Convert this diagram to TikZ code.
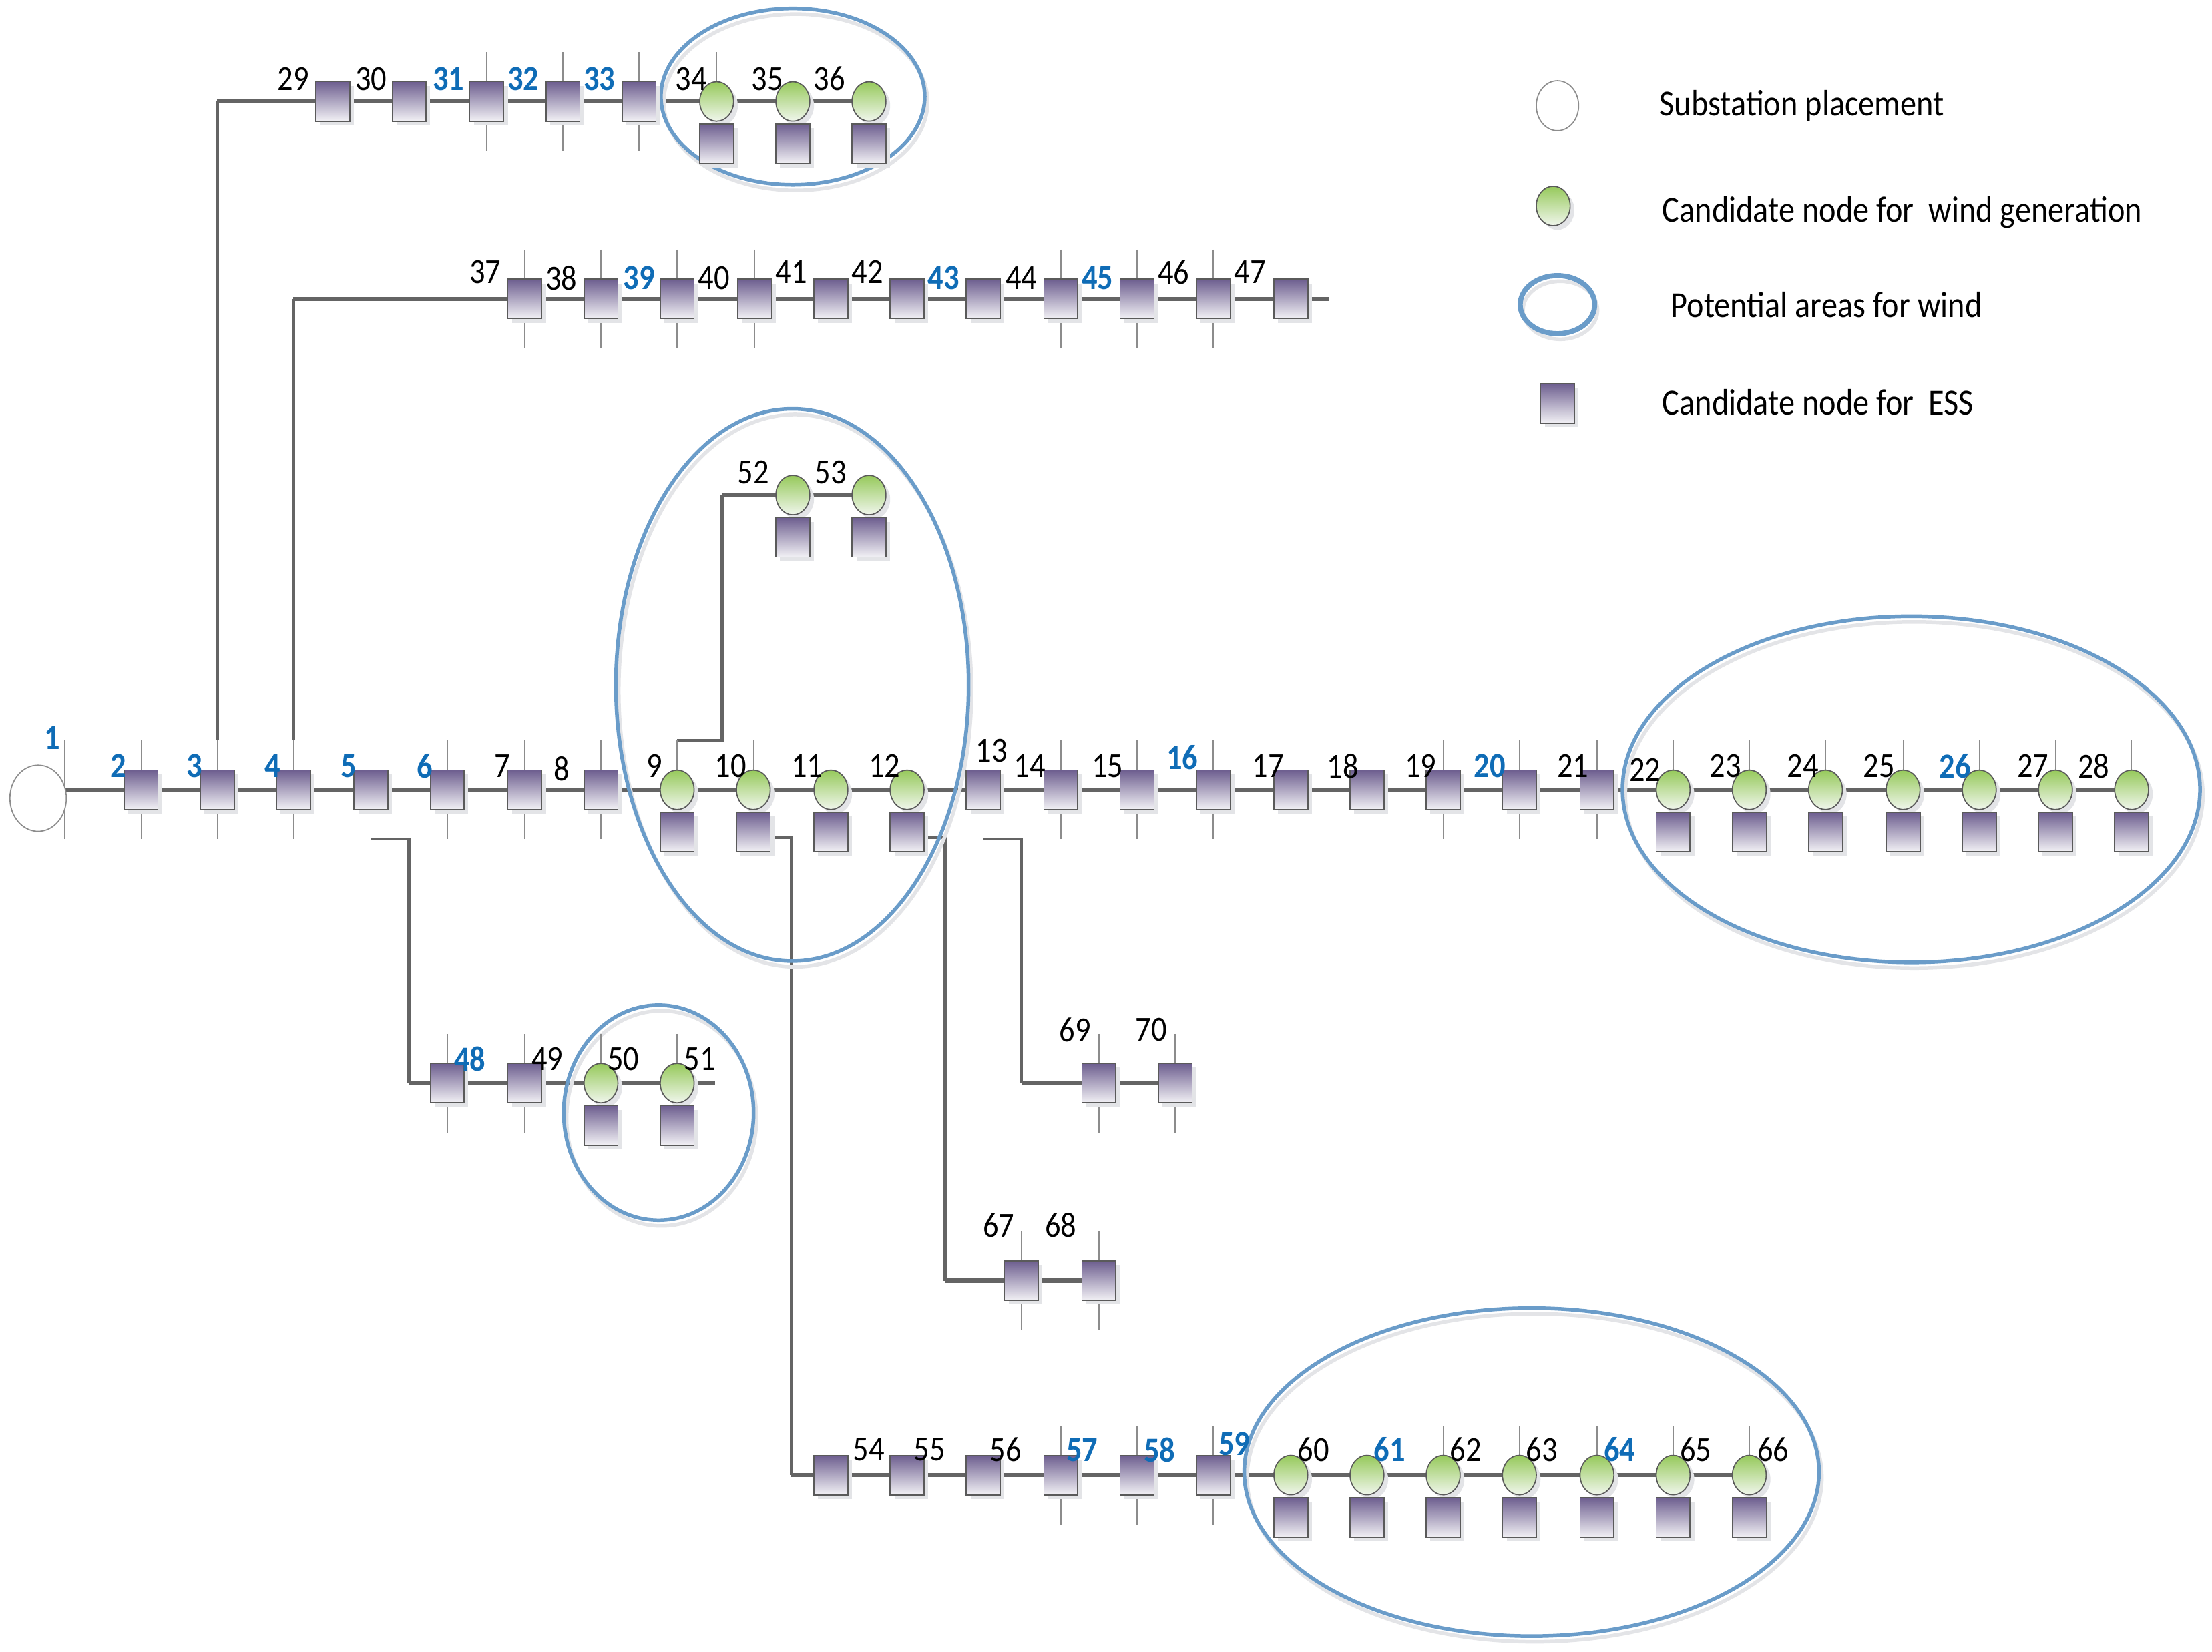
\documentclass[tikz,border=0pt]{standalone}
\usepackage{fontspec}
\newfontfamily\diagfont[FakeStretch=0.88]{Carlito}
\usetikzlibrary{shapes.geometric,shadows}

\definecolor{busgray}{HTML}{646464}
\definecolor{tapgray}{HTML}{8C8C8C}
\definecolor{edgegray}{HTML}{5A5A5A}
\definecolor{esstop}{HTML}{6D5E8F}
\definecolor{essbot}{HTML}{F2F1F5}
\definecolor{windtop}{HTML}{96C95B}
\definecolor{windbot}{HTML}{F0F6EC}
\definecolor{shadegray}{HTML}{E3E4E7}
\definecolor{areablue}{HTML}{6A9CC9}
\definecolor{numblue}{HTML}{0F6CB6}

\tikzset{
  bus/.style={draw=busgray, line width=1.6pt},
  feeder/.style={draw=busgray, line width=1.1pt},
  tap/.style={draw=tapgray, line width=0.35pt},
  ess/.style={rectangle, draw=edgegray, line width=0.4pt, inner sep=0pt,
    minimum width=12pt, minimum height=14pt, top color=esstop, bottom color=essbot,
    drop shadow={shadow xshift=1.5pt, shadow yshift=-1.5pt, fill=shadegray, opacity=1}},
  wind/.style={ellipse, draw=edgegray, line width=0.4pt, inner sep=0pt,
    minimum width=12pt, minimum height=14pt, top color=windtop, bottom color=windbot,
    drop shadow={shadow xshift=1.5pt, shadow yshift=-1.5pt, fill=shadegray, opacity=1}},
  substation/.style={ellipse, draw=tapgray, line width=0.4pt, fill=white, inner sep=0pt},
  area/.style={ellipse, draw=areablue, line width=1.3pt, inner sep=0pt,
    general shadow={draw=shadegray, line width=1.3pt, shadow xshift=1pt, shadow yshift=-2pt}},
  num/.style={inner sep=0pt, font=\diagfont\fontsize{12.5}{14}\selectfont},
  hot/.style={num, text=numblue, font=\diagfont\bfseries\fontsize{12.5}{14}\selectfont},
  legend/.style={inner sep=0pt, anchor=base west, font=\diagfont\fontsize{13}{15}\selectfont}
}

\begin{document}
\begin{tikzpicture}[x=0.5pt, y=-0.5pt]
\useasboundingbox (0,0) rectangle (1568,1171);

% bus positions
\foreach \k/\x/\y in {1/46/560, 2/100/560, 3/154/560, 4/208/560, 5/263/560, 6/317/560,
    7/372/560, 8/426/560, 9/480/560, 10/534/560, 11/589/560, 12/643/560, 13/697/560,
    14/752/560, 15/806/560, 16/860/560, 17/915/560, 18/969/560, 19/1023/560, 20/1077/560,
    21/1132/560, 22/1186/560, 23/1240/560, 24/1294/560, 25/1349/560, 26/1403/560,
    27/1457/560, 28/1511/560,
    29/236/72, 30/290/72, 31/345/72, 32/399/72, 33/453/72, 34/508/72, 35/562/72, 36/616/72,
    37/372/212, 38/426/212, 39/480/212, 40/535/212, 41/589/212, 42/643/212, 43/697/212,
    44/752/212, 45/806/212, 46/860/212, 47/915/212,
    48/317/768, 49/372/768, 50/426/768, 51/480/768, 52/562/351, 53/616/351,
    54/589/1046, 55/643/1046, 56/697/1046, 57/752/1046, 58/806/1046, 59/860/1046,
    60/915/1046, 61/969/1046, 62/1023/1046, 63/1077/1046, 64/1132/1046, 65/1186/1046,
    66/1240/1046, 67/724/908, 68/779/908, 69/779/768, 70/833/768}
  \coordinate (n\k) at (\x,\y);

% feeders
\draw[bus] (n1) -- (n28);

\coordinate (j1) at (n3 |- n29);
\draw[feeder] ([yshift=17.5pt]n3) -- (j1);
\draw[bus] (j1) -- (n36);

\coordinate (j2) at (n4 |- n37);
\coordinate (k2) at (942,212);
\draw[feeder] ([yshift=17.5pt]n4) -- (j2);
\draw[bus] (j2) -- (k2);

\coordinate (j3) at (512,351);
\draw[feeder] ([yshift=17.5pt]n9) -| (j3);
\draw[bus] (j3) -- (n53);

\coordinate (j4) at (290,768);
\coordinate (k4) at (507,768);
\draw[feeder] ([yshift=-17.5pt]n5) -| (j4);
\draw[bus] (j4) -- (k4);

\coordinate (j5) at (561,1046);
\draw[feeder] ([xshift=6pt,yshift=-17pt]n10) -| (j5);
\draw[bus] (j5) -- (n66);

\coordinate (j6) at (670,908);
\draw[feeder] ([xshift=6pt,yshift=-17pt]n12) -| (j6);
\draw[bus] (j6) -- (n68);

\coordinate (j7) at (724,768);
\draw[feeder] ([yshift=-17.5pt]n13) -| (j7);
\draw[bus] (j7) -- (n70);

% potential areas for wind
\node[area, minimum width=93.5pt, minimum height=62.5pt] (a1) at (562,68.5) {};
\node[area, minimum width=125pt, minimum height=195.8pt] (a2) at (561.6,485.7) {};
\node[area, minimum width=204.7pt, minimum height=122.7pt] (a3) at (1354.8,559.7) {};
\node[area, minimum width=67.3pt, minimum height=76.3pt] (a4) at (466.9,789) {};
\node[area, minimum width=203.7pt, minimum height=116.3pt] (a5) at (1085.7,1043.8) {};

% taps
\foreach \k in {1,...,70}
  \draw[tap] ([yshift=17.5pt]n\k) -- ([yshift=-17.5pt]n\k);

\node[substation, minimum width=20pt, minimum height=23.5pt] (sub) at (27,566) {};

% ESS only
\foreach \k in {2,3,4,5,6,7,8,13,14,15,16,17,18,19,20,21,29,30,31,32,33,
    37,38,39,40,41,42,43,44,45,46,47,48,49,54,55,56,57,58,59,67,68,69,70}
  \node[ess] (e\k) at (n\k) {};

% wind with ESS below
\foreach \k in {9,10,11,12,22,23,24,25,26,27,28,34,35,36,50,51,52,53,
    60,61,62,63,64,65,66} {
  \node[wind] (w\k) at (n\k) {};
  \node[ess] (e\k) at ([yshift=-15pt]n\k) {};
}

% bus numbers
\foreach \k/\lx/\ly in {7/356/543, 8/398/545, 9/464/543, 10/518/543, 11/572/543,
    12/627/543, 13/703/532, 14/730/543, 15/785/543, 17/899/543, 18/952/543, 19/1007/543,
    21/1115/543, 22/1166/546, 23/1223/543, 24/1278/543, 25/1332/543, 27/1441/543,
    28/1484/543, 29/208/56, 30/263/56, 34/490/56, 35/544/56, 36/588/56, 37/344/193,
    38/398/197, 40/506/197, 41/561/193, 42/615/193, 44/724/197, 46/832/193, 47/886/193,
    49/388/751, 50/442/751, 51/496/751, 52/534/335, 53/589/335, 54/616/1028, 55/659/1028,
    56/713/1028, 60/931/1028, 62/1039/1028, 63/1093/1028, 65/1202/1028, 66/1257/1028,
    67/708/869, 68/752/869, 69/762/730, 70/816/730}
  \node[num] (l\k) at (\lx,\ly) {\k};

\foreach \k/\lx/\ly in {1/37/523, 2/84/543, 3/138/543, 4/193/543, 5/247/543, 6/301/543,
    16/838/537, 20/1056/543, 26/1386/543, 31/318/56, 32/371/56, 33/425/56, 39/453/197,
    43/669/197, 45/778/197, 48/333/751, 57/767/1028, 58/822/1028, 59/875/1024,
    61/985/1028, 64/1148/1028}
  \node[hot] (l\k) at (\lx,\ly) {\k};

% legend
\node[substation, minimum width=15pt, minimum height=17.7pt] (key1) at (1104,75) {};
\node[wind] (key2) at (1101,146) {};
\node[area, line width=1.8pt, minimum width=26.4pt, minimum height=20.6pt] (key3) at (1104,216) {};
\node[ess] (key4) at (1104,286) {};
\node[legend] (txt1) at (1176,82) {Substation placement};
\node[legend] (txt2) at (1178,157.5) {Candidate node for\ \ wind generation};
\node[legend] (txt3) at (1184,225) {Potential areas for wind};
\node[legend] (txt4) at (1178,294) {Candidate node for\ \ ESS};
\end{tikzpicture}
\end{document}
